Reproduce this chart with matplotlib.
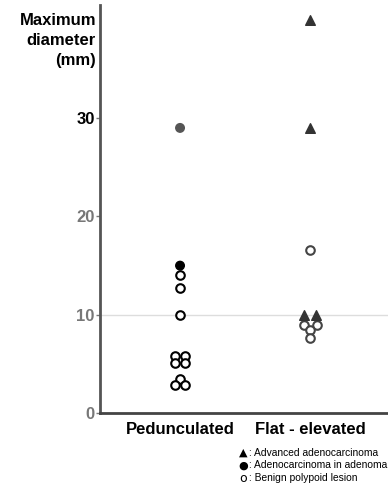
import matplotlib.pyplot as plt
import numpy as np

plt.rcParams['font.family'] = ['Liberation Sans', 'DejaVu Sans']

# Maximum diameter (mm)
categories = ['Pedunculated', 'Flat - elevated']

# Pedunculated group
ped_adv = []
ped_adeno = [29.0, 15.0]
ped_benign = [14.0, 12.7, 10.0, 5.8, 5.8, 5.1, 5.1, 3.5, 2.9, 2.9]

# Flat-elevated group
flat_adv = [40.0, 29.0, 10.0, 10.0]
flat_adeno = []
flat_benign = [16.6, 9.0, 9.0, 8.5, 7.6]

# small horizontal offsets so overlapping dots stay visible
ped_adeno_dx = [0, 0]
ped_benign_dx = [0, 0, 0, -0.04, 0.04, -0.04, 0.04, 0, -0.04, 0.04]
flat_adv_dx = [0, 0, -0.045, 0.045]
flat_benign_dx = [0, -0.05, 0.05, 0, 0]

fig = plt.figure(figsize=(3.88, 4.96), dpi=100)
ax = fig.add_axes([0.258, 0.167, 0.742, 0.823])

ax.axhline(10, color='#dddddd', lw=1, zorder=0)

ax.scatter(np.array(ped_benign_dx) + 0, ped_benign, s=38, facecolor='white',
           edgecolor='black', linewidth=1.5, zorder=3)
ax.scatter(np.array(ped_adeno_dx) + 0, ped_adeno, s=38, c=['#555555', 'black'], zorder=3)
ax.scatter(np.array(flat_adv_dx) + 1, flat_adv, s=48, marker='^', c='#333333', zorder=4)
ax.scatter(np.array(flat_benign_dx) + 1, flat_benign, s=38, facecolor='white',
           edgecolor='#444444', linewidth=1.5, zorder=3)

ax.set_xlim(-0.615, 1.6)
ax.set_ylim(0, 41.5)
ax.set_xticks([0, 1])
ax.set_xticklabels(categories, fontsize=12, fontweight='bold')
ax.tick_params(axis='x', length=0, pad=6)
ax.set_yticks([0, 10, 20, 30])
ax.set_yticklabels(['0', '10', '20', '30'], fontsize=12, fontweight='bold')
ax.tick_params(axis='y', length=3, width=1, color='#777777', pad=1)
for lab in ax.get_yticklabels():
    lab.set_color('black' if lab.get_text() == '30' else '#777777')

for s in ['top', 'right']:
    ax.spines[s].set_visible(False)
ax.spines['left'].set_color('#555555')
ax.spines['left'].set_linewidth(2)
ax.spines['bottom'].set_color('#444444')
ax.spines['bottom'].set_linewidth(2)

fig.text(96 / 388, 1 - 13 / 496, 'Maximum\ndiameter\n(mm)', ha='right', va='top',
         fontsize=12, fontweight='bold', linespacing=1.4, multialignment='right')

legend_marks = ['▲', '●', 'o']
legend_texts = [': Advanced adenocarcinoma', ': Adenocarcinoma in adenoma',
                ': Benign polypoid lesion']
for i, (m, t) in enumerate(zip(legend_marks, legend_texts)):
    y = 1 - (453 + 12.5 * i) / 496
    fig.text(243 / 388, y, m, ha='center', va='center', fontsize=8 if i < 2 else 9,
             family='DejaVu Sans')
    fig.text(249 / 388, y, t, ha='left', va='center', fontsize=7.4)

fig.savefig('out.png', dpi=100)
